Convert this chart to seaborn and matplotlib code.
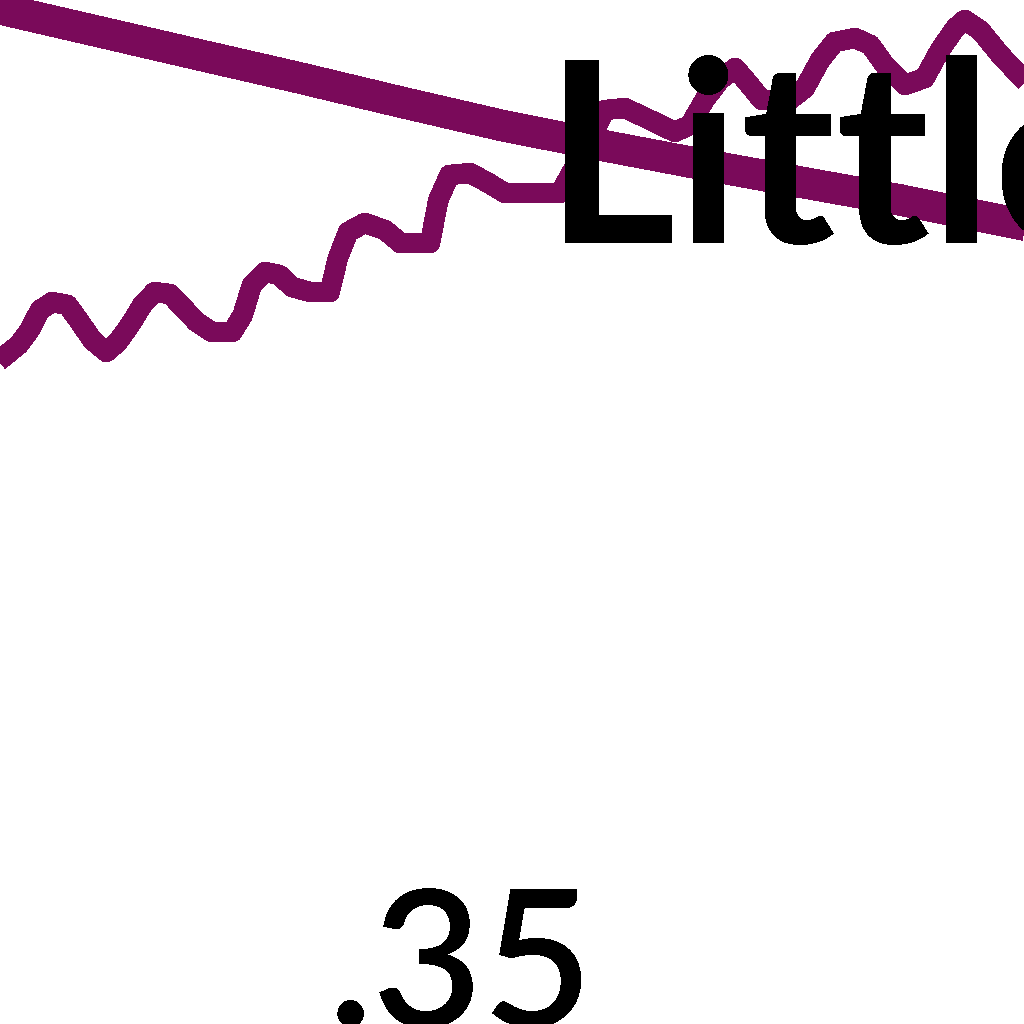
import matplotlib
matplotlib.use("Agg")
import matplotlib.pyplot as plt
import seaborn as sns

# wiggly series
share_x = [0.3040, 0.3068, 0.3079, 0.3089, 0.3101, 0.3116, 0.3128, 0.3140, 0.3154, 0.3165,
           0.3177, 0.3189, 0.3201, 0.3216, 0.3231, 0.3242, 0.3257, 0.3277, 0.3287, 0.3296,
           0.3309, 0.3323, 0.3335, 0.3353, 0.3372, 0.3380, 0.3390, 0.3406, 0.3426, 0.3441,
           0.3470, 0.3478, 0.3489, 0.3509, 0.3527, 0.3543, 0.3597, 0.3626, 0.3641, 0.3660,
           0.3685, 0.3709, 0.3724, 0.3738, 0.3753, 0.3768, 0.3782, 0.3794, 0.3821, 0.3836,
           0.3851, 0.3865, 0.3885, 0.3900, 0.3914, 0.3934, 0.3953, 0.3968, 0.3983, 0.3992,
           0.4007, 0.4027, 0.4050, 0.4066]
share_y = [50.2, 52.5, 54.0, 56.0, 56.8, 56.5, 54.8, 53.0, 51.8, 52.8,
           54.5, 56.5, 57.8, 57.6, 56.0, 54.8, 53.8, 53.8, 55.5, 58.5,
           59.8, 59.5, 58.3, 57.8, 57.8, 61.2, 63.8, 64.7, 64.0, 62.7,
           62.7, 67.0, 69.5, 69.7, 68.7, 67.7, 67.7, 73.0, 76.0, 76.2,
           75.0, 73.8, 74.5, 77.0, 79.0, 80.2, 78.5, 77.0, 77.0, 78.2,
           81.0, 82.8, 83.2, 82.5, 80.5, 78.5, 79.2, 82.0, 84.2, 85.0,
           84.0, 81.5, 79.0, 77.5]

# thick falling series
trend_x = [0.3021, 0.3148, 0.3245, 0.3343, 0.3441, 0.3538, 0.3636, 0.3734, 0.3831, 0.3929, 0.4075]
trend_y = [86.8, 83.8, 81.5, 79.2, 76.8, 74.5, 72.5, 70.6, 68.8, 67.0, 64.0]

label_text = "Little"
label_x = 0.3582
label_y = 62.7
tick_values = [0.35]
tick_labels = [".35"]

sns.set_theme(style="white")
plt.rcParams['font.family'] = ['Lato', 'DejaVu Sans']
plt.rcParams['text.antialiased'] = False

purple = "#7a0a5a"

fig = plt.figure(figsize=(10.24, 10.24), dpi=100)
ax = fig.add_axes([0, 0.1504, 1, 0.8496])

sns.lineplot(x=trend_x, y=trend_y, ax=ax, color=purple, linewidth=22,
             sort=False, estimator=None, solid_capstyle='butt', antialiased=False)
sns.lineplot(x=share_x, y=share_y, ax=ax, color=purple, linewidth=14,
             sort=False, estimator=None, solid_capstyle='butt', antialiased=False)

ax.text(label_x, label_y, label_text, fontsize=183, fontweight='bold', color='black',
        ha='left', va='baseline', zorder=5)

ax.set_xlim(0.305, 0.405)
ax.set_ylim(0, 87)
ax.set_xticks(tick_values, labels=tick_labels)
ax.tick_params(axis='x', length=0, pad=11, labelsize=137, colors='black')
for lbl in ax.get_xticklabels():
    lbl.set_fontweight('semibold')
ax.set_yticks([])
ax.set_xlabel('')
ax.set_ylabel('')
for s in ax.spines.values():
    s.set_visible(False)

fig.savefig("out.png", dpi=100, facecolor='white')
